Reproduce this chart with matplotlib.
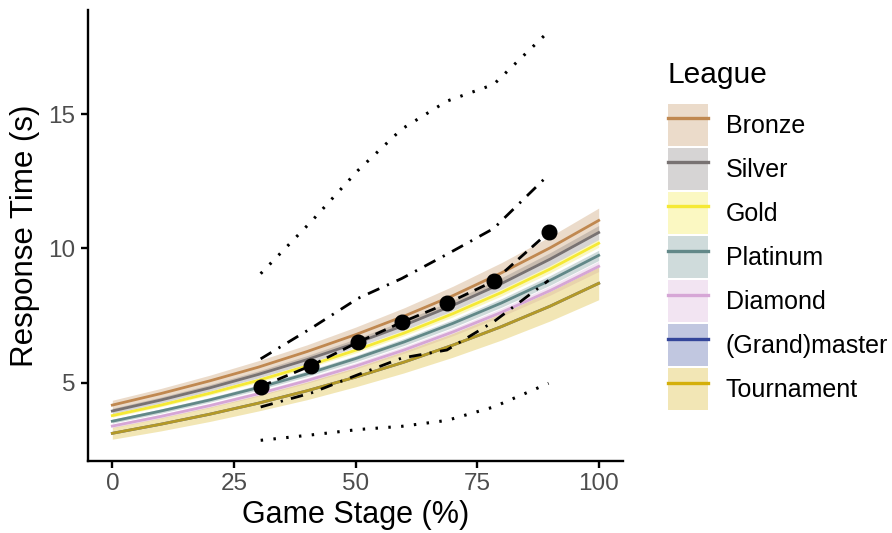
import matplotlib
matplotlib.use("Agg")
import matplotlib.pyplot as plt
from matplotlib.patches import Patch
from matplotlib.lines import Line2D

plt.rcParams['font.family'] = ['Liberation Sans', 'DejaVu Sans']

# fitted curves per league
stage = [0, 10, 20, 30, 40, 50, 60, 70, 80, 90, 100]
leagues = ['Bronze', 'Silver', 'Gold', 'Platinum', 'Diamond', '(Grand)master', 'Tournament']
colors = ['#C08850', '#787272', '#F5E935', '#628888', '#D6A6D6', '#34469A', '#D4AF0A']

bronze = [4.17, 4.60, 5.07, 5.58, 6.16, 6.79, 7.48, 8.24, 9.09, 10.02, 11.04]
bronze_lo = [3.99, 4.40, 4.85, 5.35, 5.90, 6.50, 7.16, 7.90, 8.71, 9.60, 10.58]
bronze_hi = [4.35, 4.79, 5.28, 5.82, 6.41, 7.07, 7.79, 8.59, 9.47, 10.44, 11.50]

silver = [3.95, 4.36, 4.81, 5.31, 5.86, 6.47, 7.14, 7.88, 8.69, 9.60, 10.59]
silver_lo = [3.85, 4.25, 4.69, 5.18, 5.71, 6.31, 6.96, 7.68, 8.48, 9.36, 10.33]
silver_hi = [4.05, 4.47, 4.93, 5.44, 6.01, 6.63, 7.32, 8.07, 8.91, 9.84, 10.85]

gold = [3.78, 4.17, 4.61, 5.09, 5.62, 6.21, 6.85, 7.57, 8.36, 9.23, 10.19]
gold_lo = [3.72, 4.11, 4.54, 5.01, 5.54, 6.11, 6.75, 7.45, 8.23, 9.09, 10.04]
gold_hi = [3.84, 4.24, 4.68, 5.17, 5.71, 6.30, 6.96, 7.68, 8.48, 9.37, 10.34]

platinum = [3.57, 3.95, 4.36, 4.82, 5.33, 5.90, 6.52, 7.21, 7.97, 8.81, 9.74]
platinum_lo = [3.50, 3.87, 4.28, 4.73, 5.23, 5.78, 6.39, 7.06, 7.81, 8.63, 9.55]
platinum_hi = [3.64, 4.03, 4.45, 4.92, 5.44, 6.01, 6.65, 7.35, 8.13, 8.99, 9.93]

diamond = [3.39, 3.75, 4.15, 4.59, 5.08, 5.62, 6.22, 6.89, 7.62, 8.43, 9.33]
diamond_lo = [3.32, 3.68, 4.07, 4.50, 4.98, 5.51, 6.10, 6.75, 7.47, 8.26, 9.14]
diamond_hi = [3.46, 3.83, 4.23, 4.68, 5.18, 5.74, 6.35, 7.02, 7.77, 8.60, 9.52]

# (grand)master sits right under the tournament curve
master = [3.12, 3.46, 3.83, 4.24, 4.70, 5.21, 5.77, 6.40, 7.09, 7.85, 8.70]

tournament = [3.12, 3.46, 3.83, 4.24, 4.70, 5.21, 5.77, 6.40, 7.09, 7.85, 8.70]
tournament_lo = [2.90, 3.21, 3.56, 3.95, 4.37, 4.85, 5.37, 5.95, 6.59, 7.30, 8.09]
tournament_hi = [3.34, 3.70, 4.10, 4.54, 5.03, 5.57, 6.18, 6.84, 7.58, 8.40, 9.31]

# observed medians and quantiles
obs_x = [30.5, 40.9, 50.5, 59.5, 68.8, 78.4, 89.7]
obs_med = [4.86, 5.64, 6.51, 7.25, 7.95, 8.78, 10.6]
q_lo = [4.10, 4.62, 5.30, 5.92, 6.22, 7.27, 8.81]
q_hi = [5.89, 7.03, 8.14, 8.88, 9.78, 10.74, 12.74]
q_min = [2.86, 3.06, 3.26, 3.38, 3.60, 4.10, 4.98]
q_max = [9.06, 11.0, 12.9, 14.44, 15.48, 16.1, 18.07]

fits = [bronze, silver, gold, platinum, diamond, master, tournament]
los = [bronze_lo, silver_lo, gold_lo, platinum_lo, diamond_lo, tournament_lo]
his = [bronze_hi, silver_hi, gold_hi, platinum_hi, diamond_hi, tournament_hi]
ribbon_cols = colors[:5] + [colors[6]]

fig = plt.figure(figsize=(8.92, 5.33), dpi=100)
ax = fig.add_axes([88/892, 1-461/533, 535/892, 451/533])

for lo, hi, c in zip(los, his, ribbon_cols):
    ax.fill_between(stage, lo, hi, color=c, alpha=0.3, lw=0)
for f, c, name in zip(fits, colors, leagues):
    a = 0.8 if name == 'Tournament' else 1.0
    ax.plot(stage, f, color=c, lw=2.0, alpha=a)

ax.plot(obs_x, obs_med, color='black', lw=2.0, ls=(0, (4, 2.5)))
ax.plot(obs_x, obs_med, 'o', color='black', ms=10.5)
ax.plot(obs_x, q_lo, color='black', lw=2.0, ls=(0, (4.5, 3, 0.8, 3)))
ax.plot(obs_x, q_hi, color='black', lw=2.0, ls=(0, (4.5, 3, 0.8, 3)))
ax.plot(obs_x, q_min, color='black', lw=2.2, ls=(0, (0.8, 3.4)))
ax.plot(obs_x, q_max, color='black', lw=2.2, ls=(0, (0.8, 3.4)))

ax.set_xlim(-5, 105)
ax.set_ylim(2.09, 18.87)
ax.set_xticks([0, 25, 50, 75, 100])
ax.set_yticks([5, 10, 15])
for s in ['top', 'right']:
    ax.spines[s].set_visible(False)
for s in ['left', 'bottom']:
    ax.spines[s].set_linewidth(1.7)
ax.tick_params(width=1.7, length=5, labelsize=17.5, labelcolor='#4D4D4D', color='black', pad=4)
ax.set_xlabel('Game Stage (%)', fontsize=22, labelpad=3)
ax.set_ylabel('Response Time (s)', fontsize=22.5, labelpad=6)

fig.text(667/892, 1-75/533, 'League', fontsize=21.5, va='center', ha='left')
handles = [(Patch(facecolor=c, alpha=0.3, lw=0), Line2D([], [], color=c, lw=2.4)) for c in colors]
leg = fig.legend(handles, leagues, loc='upper left', bbox_to_anchor=(668/892, 1-104/533),
                 frameon=False, fontsize=18, handlelength=1.6, handleheight=2.21,
                 labelspacing=0.08, handletextpad=0.7, borderaxespad=0, borderpad=0)

fig.savefig('out.png', dpi=100)
